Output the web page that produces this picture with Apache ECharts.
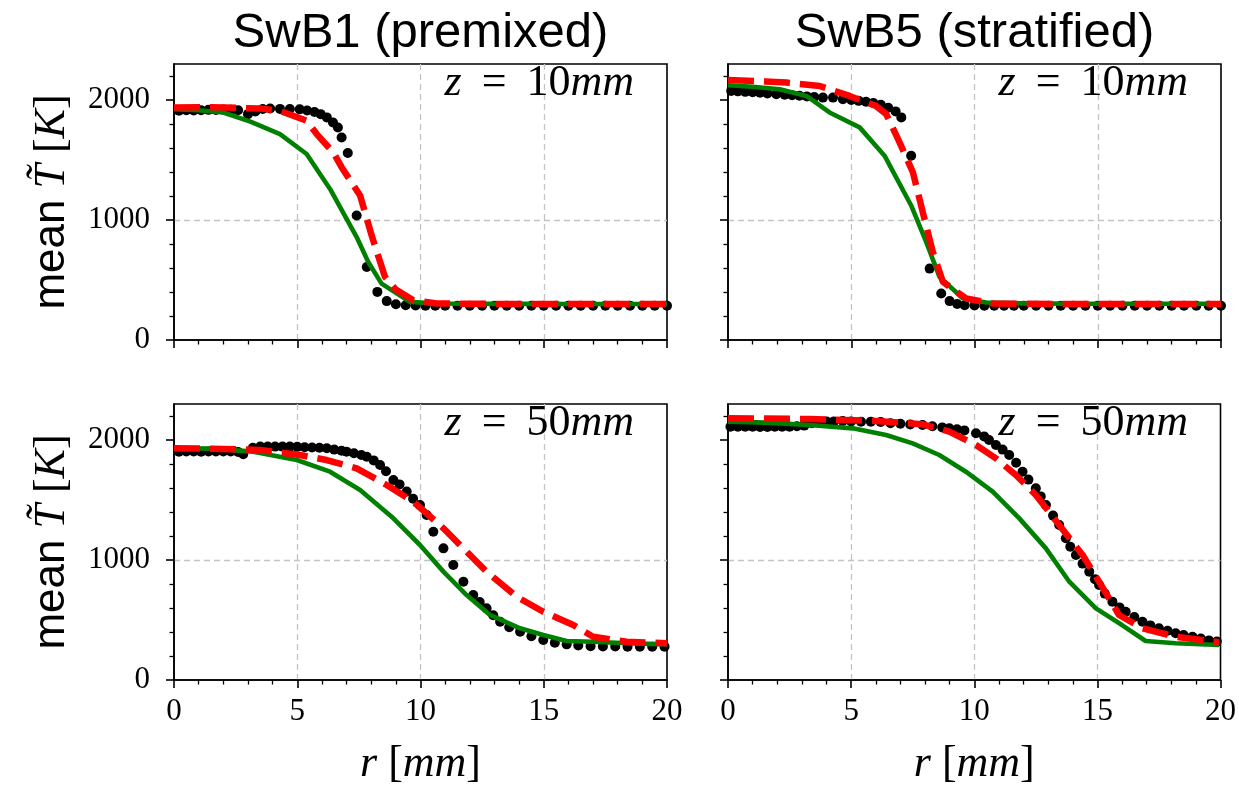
<!DOCTYPE html>
<html>
<head>
<meta charset="utf-8">
<script src="https://cdn.jsdelivr.net/npm/echarts@6/dist/echarts.min.js"></script>
<style>
html,body{margin:0;padding:0;background:#fff;}
#chart{width:1239px;height:792px;}
</style>
</head>
<body>
<div id="chart"></div>
<script>
// ---------------- data ----------------
const rTicks = [0, 5, 10, 15, 20];
const tTicks = [0, 1000, 2000];
const tMinorTicks = [200, 400, 600, 800, 1200, 1400, 1600, 1800, 2200];
const columnTitles = ['SwB1 (premixed)', 'SwB5 (stratified)'];
const rowLabels = ['10', '50'];

// experiment (black dots) [r mm, T K]
const expTL = [[0.2,1910],[0.5,1915],[0.8,1912],[1.1,1915],[1.4,1918],[1.7,1916],[2.0,1920],[2.3,1918],[2.6,1915],[3.0,1882],[3.3,1905],[3.6,1925],[3.9,1929],[4.3,1926],[4.7,1925],[5.1,1922],[5.4,1912],[5.7,1900],[5.95,1882],[6.2,1855],[6.45,1813],[6.65,1771],[6.8,1688],[7.05,1558],[7.41,1038],[7.82,609],[8.25,401],[8.63,324],[9.0,298],[9.4,290],[9.8,287],[10.2,285],[10.6,285],[11.0,285],[11.5,285],[12.0,285],[12.5,285],[13.0,285],[13.5,285],[14.0,285],[14.5,285],[15.0,285],[15.5,285],[16.0,285],[16.5,285],[17.0,285],[17.5,285],[18.0,285],[18.5,285],[19.0,285],[19.5,285],[20.0,285]];
const expTR = [[0.13,2076],[0.4,2072],[0.7,2068],[1.0,2064],[1.3,2060],[1.6,2055],[1.96,2048],[2.3,2044],[2.6,2040],[2.9,2035],[3.2,2030],[3.5,2025],[3.85,2020],[4.26,2020],[4.66,2007],[5.0,2000],[5.3,1993],[5.6,1985],[5.9,1975],[6.2,1960],[6.5,1935],[6.8,1905],[7.03,1855],[7.43,1536],[8.18,595],[8.65,388],[8.99,324],[9.3,300],[9.6,290],[10.0,287],[10.4,285],[10.8,285],[11.2,285],[11.6,285],[12.0,285],[12.5,285],[13.0,285],[13.5,285],[14.0,285],[14.5,285],[15.0,285],[15.5,285],[16.0,285],[16.5,285],[17.0,285],[17.5,285],[18.0,285],[18.5,285],[19.0,285],[19.5,285],[20.0,285]];
const expBL = [[0.2,1903],[0.5,1905],[0.8,1905],[1.1,1903],[1.4,1905],[1.7,1905],[2.0,1905],[2.3,1905],[2.6,1900],[2.81,1881],[3.2,1935],[3.5,1945],[3.8,1945],[4.1,1945],[4.4,1945],[4.7,1945],[5.0,1943],[5.3,1940],[5.6,1938],[5.9,1935],[6.2,1931],[6.5,1920],[6.8,1910],[7.0,1903],[7.3,1890],[7.6,1875],[7.82,1861],[8.1,1830],[8.36,1792],[8.6,1740],[8.9,1667],[9.15,1630],[9.44,1570],[9.7,1510],[9.98,1458],[10.25,1375],[10.52,1236],[10.93,1097],[11.33,958],[11.74,819],[12.14,708],[12.4,650],[12.68,597],[12.95,540],[13.23,486],[13.6,440],[14.04,403],[14.5,365],[14.98,333],[15.45,310],[15.93,297],[16.4,288],[16.9,282],[17.4,280],[17.9,279],[18.4,278],[18.9,278],[19.4,278],[19.9,278]];
const expBR = [[0.1,2111],[0.4,2111],[0.7,2111],[1.0,2111],[1.3,2108],[1.6,2108],[1.9,2111],[2.2,2111],[2.5,2111],[2.8,2115],[3.1,2120],[3.4,2140],[3.7,2150],[4.0,2155],[4.3,2155],[4.66,2159],[5.0,2155],[5.4,2153],[5.8,2153],[6.2,2150],[6.6,2140],[7.0,2135],[7.4,2130],[7.9,2125],[8.3,2115],[8.7,2105],[8.99,2097],[9.3,2090],[9.6,2080],[10.07,2056],[10.4,2030],[10.6,2000],[10.88,1958],[11.15,1920],[11.42,1875],[11.7,1810],[11.96,1736],[12.2,1670],[12.5,1597],[12.7,1530],[12.91,1458],[13.2,1370],[13.45,1292],[13.72,1181],[13.9,1110],[14.13,1042],[14.4,970],[14.67,903],[14.9,840],[15.07,792],[15.3,720],[15.61,653],[15.9,605],[16.15,569],[16.5,525],[16.83,486],[17.15,455],[17.5,431],[17.85,410],[18.18,389],[18.5,375],[18.86,361],[19.2,345],[19.53,330],[19.85,320]];

// model A (green solid)
const greenTL = [[0,1924],[1,1915],[2,1896],[3.1,1820],[4.3,1716],[5.38,1550],[6.33,1259],[7.41,858],[7.88,650],[8.42,470],[9.57,318],[10.66,304],[12,302],[14,301],[16,300],[18,300],[20,300]];
const greenTR = [[0,2123],[1,2110],[2.1,2090],[3.18,2034],[4.12,1896],[5.34,1772],[6.35,1536],[7.43,1121],[8.04,817],[8.58,526],[9.53,346],[10.48,313],[12,305],[14,303],[16,302],[18,302],[20,302]];
const greenBL = [[0,1931],[1.5,1928],[3.22,1903],[4.98,1833],[6.33,1736],[7.55,1583],[8.9,1347],[9.98,1125],[10.93,903],[11.87,708],[12.82,542],[14.04,431],[14.98,375],[15.93,325],[17.0,319],[18.4,306],[20,297]];
const greenBR = [[0,2153],[1.5,2145],[3.31,2125],[5.07,2097],[6.42,2042],[7.5,1972],[8.58,1875],[9.66,1736],[10.75,1570],[11.83,1347],[12.91,1097],[13.86,819],[14.94,597],[16.0,458],[16.96,325],[18.18,306],[19.94,292]];

// model B (red dashed)
const redTL = [[0,1938],[1.5,1940],[3.5,1929],[4.3,1910],[5.38,1827],[5.79,1716],[6.46,1564],[6.8,1440],[7.55,1204],[8.02,870],[8.56,526],[9.0,420],[9.71,332],[10.66,304],[12,302],[14,300],[16,300],[18,300],[20,300]];
const redTR = [[0,2167],[1.5,2155],[2.37,2145],[3.72,2117],[4.93,2034],[6.0,1951],[6.42,1882],[6.96,1647],[7.5,1398],[7.9,1066],[8.31,733],[8.72,484],[9.66,346],[10.75,304],[12,302],[14,300],[16,300],[18,300],[20,300]];
const redBL = [[0,1931],[1.5,1928],[3.49,1917],[5.11,1875],[6.19,1833],[7.41,1764],[8.63,1625],[9.71,1486],[10.93,1264],[11.87,1070],[12.68,903],[13.9,694],[14.98,569],[16.2,458],[17.0,361],[18.36,319],[20,306]];
const redBR = [[0,2181],[3.31,2175],[6.0,2159],[7.9,2131],[8.99,2070],[10.07,1958],[10.88,1847],[11.69,1708],[12.5,1542],[13.45,1292],[14.4,1042],[15.07,819],[15.88,542],[16.83,431],[18.18,361],[19.94,314]];

const expData = [expTL, expTR, expBL, expBR];
const greenData = [greenTL, greenTR, greenBL, greenBR];
const redData = [redTL, redTR, redBL, redBR];

// ---------------- layout ----------------
const panels = [
  {left: 174, top: 64},
  {left: 728, top: 64},
  {left: 174, top: 404},
  {left: 728, top: 404}
];
const PW = 493, PH = 276;
const serif = '"Liberation Serif", "DejaVu Serif", serif';
const sans = '"Liberation Sans", Arial, sans-serif';

const grid = [], xAxis = [], yAxis = [], series = [], graphic = [];

panels.forEach((p, i) => {
  const isBottom = i >= 2;
  const isLeft = i % 2 === 0;
  grid.push({left: p.left, top: p.top, width: PW, height: PH, show: true,
    borderColor: '#000', borderWidth: 1.6, backgroundColor: 'transparent', containLabel: false});
  xAxis.push({
    type: 'value', gridIndex: i, min: rTicks[0], max: rTicks[rTicks.length-1], interval: 5,
    axisLine: {show: true, onZero: false, lineStyle: {color: '#000', width: 1.6}},
    axisTick: {show: true, inside: false, length: 8, lineStyle: {color: '#000', width: 1.6}},
    minorTick: {show: true, splitNumber: 5, length: 4.5, lineStyle: {color: '#000', width: 1.3}},
    axisLabel: {show: isBottom, color: '#000', fontFamily: serif, fontSize: 31, margin: 16,
      formatter: v => String(v)},
    splitLine: {show: true, showMinLine: false, showMaxLine: false,
      lineStyle: {color: '#c4c4c4', width: 1.3, type: [6, 4]}},
    name: isBottom ? '{i|r} [{i|mm}]' : '',
    nameLocation: 'middle', nameGap: 62,
    nameTextStyle: {color: '#000', fontFamily: serif, fontSize: 44,
      rich: {i: {fontFamily: serif, fontStyle: 'italic', fontSize: 44, color: '#000'}}}
  });
  yAxis.push({
    type: 'value', gridIndex: i, position: 'left', min: 0, max: 2300, interval: 1000,
    axisLine: {show: true, onZero: false, lineStyle: {color: '#000', width: 1.6}},
    axisTick: {show: true, inside: false, length: 8, customValues: tTicks, lineStyle: {color: '#000', width: 1.6}},
    axisLabel: {show: isLeft, customValues: tTicks, color: '#000', fontFamily: serif, fontSize: 31, margin: 24,
      formatter: v => String(v)},
    splitLine: {show: true, showMinLine: false, showMaxLine: false,
      lineStyle: {color: '#c4c4c4', width: 1.3, type: [6, 4]}},
    name: isLeft ? '{s|mean} {i|T\u0303} [{i|K}]' : '',
    nameLocation: 'middle', nameGap: 100, nameRotate: 90,
    nameTextStyle: {color: '#000', fontFamily: serif, fontSize: 44,
      rich: {
        s: {fontFamily: sans, fontSize: 44, color: '#000'},
        i: {fontFamily: serif, fontStyle: 'italic', fontSize: 44, color: '#000'}
      }}
  });
  yAxis.push({
    type: 'value', gridIndex: i, position: 'left', min: 0, max: 2300, interval: 200,
    axisLine: {show: false},
    axisTick: {show: true, inside: false, length: 4.5, customValues: tMinorTicks, lineStyle: {color: '#000', width: 1.3}},
    axisLabel: {show: false},
    splitLine: {show: false}
  });

  series.push({
    type: 'scatter', xAxisIndex: i, yAxisIndex: 2*i, data: expData[i],
    symbol: 'circle', symbolSize: 10, itemStyle: {color: '#000', opacity: 1}, z: 2, silent: true
  });
  series.push({
    type: 'line', xAxisIndex: i, yAxisIndex: 2*i, data: greenData[i],
    showSymbol: false, symbol: 'none', lineStyle: {color: '#008000', width: 4.6}, z: 3, silent: true
  });
  series.push({
    type: 'line', xAxisIndex: i, yAxisIndex: 2*i, data: redData[i],
    showSymbol: false, symbol: 'none', lineStyle: {color: '#ff0000', width: 6.5, type: [26, 10]}, z: 4, silent: true
  });

  graphic.push({
    type: 'text', x: p.left + PW - 33, y: p.top + 19, z: 10,
    style: {
      text: '{i|z} {u|=} ' + rowLabels[isBottom ? 1 : 0] + '{i|mm}',
      align: 'right', verticalAlign: 'middle', textAlign: 'right', textVerticalAlign: 'middle',
      font: '44px ' + serif, fill: '#000',
      rich: {
        i: {fontFamily: serif, fontStyle: 'italic', fontSize: 44, fill: '#000', color: '#000'},
        u: {fontFamily: serif, fontSize: 44, padding: [0, 9], fill: '#000', color: '#000'}
      }
    }
  });
});

// column titles
[0, 1].forEach(c => {
  graphic.push({
    type: 'text', x: panels[c].left + PW / 2, y: 33, z: 10,
    style: {text: columnTitles[c], font: '49px ' + sans, fill: '#000',
      align: 'center', verticalAlign: 'middle', textAlign: 'center', textVerticalAlign: 'middle'}
  });
});

const chart = echarts.init(document.getElementById('chart'), null, {renderer: 'canvas'});
chart.setOption({
  animation: false,
  backgroundColor: '#fff',
  grid, xAxis, yAxis, series, graphic
});
</script>
</body>
</html>
